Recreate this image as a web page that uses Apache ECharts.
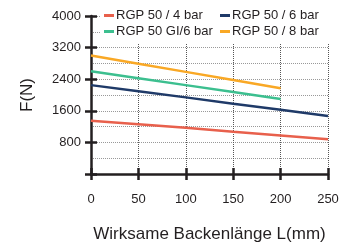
<!DOCTYPE html>
<html>
<head>
<meta charset="utf-8">
<script src="https://cdn.jsdelivr.net/npm/echarts@6/dist/echarts.min.js"></script>
<style>
html,body{margin:0;padding:0;background:#fff;}
#chart{width:345px;height:248px;}
</style>
</head>
<body>
<div id="chart"></div>
<script>
// Backenlänge L (mm)
var lengths = [0, 50, 100, 150, 200, 250];
// Greifkraft F (N)
var rgp4bar   = [1350, 1260, 1170, 1070, 975, 880];
var rgp6bar   = [2250, 2095, 1940, 1780, 1625, 1470];
var rgpGi6bar = [2600, 2425, 2250, 2075, 1900];
var rgp8bar   = [3000, 2790, 2585, 2380, 2170];
var seriesNames = ['RGP 50 / 4 bar', 'RGP 50 / 6 bar', 'RGP 50 GI/6 bar', 'RGP 50 / 8 bar'];
var seriesColors = ['#e8604c', '#1f3a68', '#3cbf8f', '#f9a825'];

var font = "'Liberation Sans', Arial, sans-serif";
var ink = '#231f20';

function pairs(vals) {
	var out = [];
	for (var i = 0; i < vals.length; i++) out.push([lengths[i], vals[i]]);
	return out;
}

function lineSeries(idx, vals) {
	return {
		name: seriesNames[idx],
		type: 'line',
		xAxisIndex: 0,
		yAxisIndex: 0,
		data: pairs(vals),
		showSymbol: false,
		symbol: 'none',
		lineStyle: {width: 2.5, color: seriesColors[idx]},
		itemStyle: {color: seriesColors[idx]},
		z: 2
	};
}

var legendBase = {
	orient: 'vertical',
	top: 5,
	itemGap: 3,
	itemWidth: 10,
	itemHeight: 3,
	icon: 'rect',
	backgroundColor: '#fff',
	textStyle: {fontFamily: font, fontSize: 13, color: ink, lineHeight: 13, padding: [0, 0, 0, -3]}
};

// Striche kreuzen die Achse: eine Achse zeichnet aussen, eine zweite innen
function tick(inside) {
	return {show: true, inside: inside, length: 6, lineStyle: {color: ink, width: 2.5}};
}

var chart = echarts.init(document.getElementById('chart'), null, {renderer: 'canvas'});
chart.setOption({
	animation: false,
	color: seriesColors,
	grid: {left: 91, right: 17, top: 16, bottom: 72},
	legend: [
		Object.assign({}, legendBase, {left: 100, padding: [4, 12, 6, 4], data: [seriesNames[0], seriesNames[2]]}),
		Object.assign({}, legendBase, {left: 217, padding: [4, 14, 6, 3], data: [seriesNames[1], seriesNames[3]]})
	],
	xAxis: [{
		type: 'value', min: 0, max: 250, interval: 50,
		name: 'Wirksame Backenlänge L(mm)', nameLocation: 'middle', nameGap: 52,
		nameTextStyle: {fontFamily: font, fontSize: 17, color: ink},
		axisLine: {lineStyle: {color: ink, width: 2.5}},
		axisTick: tick(false),
		axisLabel: {fontFamily: font, fontSize: 13, color: ink, margin: 19},
		splitLine: {show: true, lineStyle: {color: '#555', width: 1, type: [1, 1]}}
	}, {
		type: 'value', min: 0, max: 250, interval: 50, position: 'bottom',
		axisLine: {show: false},
		axisTick: tick(true),
		axisLabel: {show: false},
		splitLine: {show: false}
	}],
	yAxis: [{
		type: 'value', min: 0, max: 4000, interval: 800,
		name: 'F(N)', nameLocation: 'middle', nameGap: 55,
		nameTextStyle: {fontFamily: font, fontSize: 17, color: ink},
		axisLine: {show: true, lineStyle: {color: ink, width: 2.5}},
		axisTick: tick(false),
		axisLabel: {
			fontFamily: font, fontSize: 13, color: ink, margin: 10,
			formatter: function (v) { return v === 0 ? '' : String(v); }
		},
		splitLine: {show: true, lineStyle: {color: '#999', width: 1, type: [1, 1]}},
		minorTick: {show: false, splitNumber: 2},
		minorSplitLine: {show: true, lineStyle: {color: '#999', width: 1, type: [1, 1]}}
	}, {
		type: 'value', min: 0, max: 4000, interval: 800, position: 'left',
		axisLine: {show: false},
		axisTick: tick(true),
		axisLabel: {show: false},
		splitLine: {show: false}
	}],
	series: [
		lineSeries(0, rgp4bar),
		lineSeries(1, rgp6bar),
		lineSeries(2, rgpGi6bar),
		lineSeries(3, rgp8bar)
	]
});
</script>
</body>
</html>
